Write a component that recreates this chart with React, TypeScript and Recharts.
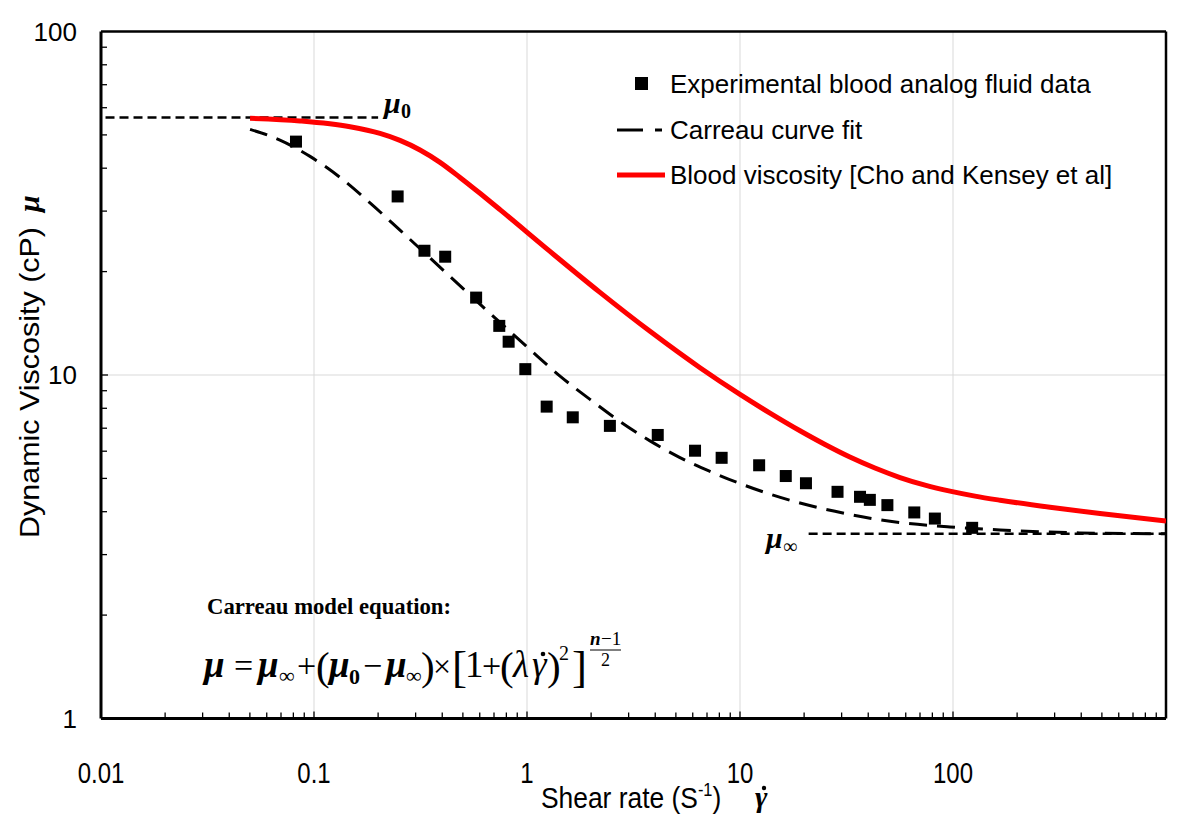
import React from 'react';
import { ComposedChart, Line, Scatter, XAxis, YAxis, ReferenceLine, Legend } from 'recharts';

const SANS = "'Liberation Sans', Arial, sans-serif";
const SERIF = "'Liberation Serif', 'Times New Roman', serif";

// ---- data ----
const expX = [0.0823, 0.247, 0.33, 0.413, 0.577, 0.741, 0.82, 0.982, 1.237, 1.64, 2.45, 4.11, 6.15, 8.2, 12.3, 16.4, 20.4, 28.7, 36.6, 40.7, 49.2, 65.8, 82.2, 123];
const expY = [47.8, 33.1, 23.0, 22.1, 16.8, 13.9, 12.5, 10.4, 8.09, 7.53, 7.11, 6.69, 6.02, 5.74, 5.46, 5.08, 4.84, 4.57, 4.42, 4.33, 4.18, 3.98, 3.82, 3.59];

const carreauX = [0.0501, 0.0692, 0.0958, 0.1325, 0.1832, 0.2533, 0.4351, 0.7466, 1.033, 1.429, 1.976, 2.733, 3.78, 5.226, 7.231, 10.0, 13.83, 19.13, 27.93, 40.76, 56.4, 96.8, 166.3, 394.6, 1000];
const carreauY = [51.9, 48.3, 43.3, 37.6, 31.7, 26.4, 19.36, 14.22, 11.86, 9.93, 8.49, 7.32, 6.43, 5.75, 5.24, 4.83, 4.5, 4.24, 4.01, 3.83, 3.72, 3.61, 3.54, 3.47, 3.45];

const bloodX = [0.0501, 0.086, 0.1476, 0.2041, 0.2533, 0.3146, 0.3905, 0.4846, 0.6016, 0.7466, 1.282, 2.201, 3.78, 6.49, 10.0, 13.83, 19.13, 25.07, 32.8, 43.0, 56.4, 73.9, 96.8, 126.9, 166.3, 285.4, 489.9, 1000];
const bloodY = [55.9, 54.9, 52.8, 50.5, 48.2, 45.2, 41.6, 37.6, 33.8, 30.3, 22.9, 17.4, 13.4, 10.5, 8.78, 7.745, 6.88, 6.275, 5.77, 5.36, 5.03, 4.78, 4.59, 4.44, 4.32, 4.12, 3.95, 3.76];

const mu0Value = 56.2;
const mu0X = [0.0105, 0.2];
const muInfValue = 3.45;
const muInfX = [21, 1000];

const xMajorTicks = [0.01, 0.1, 1, 10, 100, 1000];
const yMajorTicks = [1, 10, 100];
const xGrid = [0.1, 1, 10, 100];
const yGrid = [10];

const legendNames = [
  'Experimental blood analog fluid data',
  'Carreau curve fit',
  'Blood viscosity [Cho and Kensey et al]',
];

// ---- derived tables ----
const zip = (xs: number[], ys: number[]) => xs.map((x, i) => ({ x, y: ys[i] }));
const expData = zip(expX, expY);
const carreauData = zip(carreauX, carreauY);
const bloodData = zip(bloodX, bloodY);
const mu0Data = mu0X.map((x) => ({ x, y: mu0Value }));
const muInfData = muInfX.map((x) => ({ x, y: muInfValue }));

const withMinors = (majors: number[]) => {
  const out: number[] = [];
  for (let i = 0; i < majors.length - 1; i++) {
    for (let k = 1; k <= 9; k++) out.push(Number((majors[i] * k).toPrecision(3)));
  }
  out.push(majors[majors.length - 1]);
  return out;
};
const xTicks = withMinors(xMajorTicks);
const yTicks = withMinors(yMajorTicks);
const isMajor = (v: number) => Math.abs(Math.log10(v) - Math.round(Math.log10(v))) < 1e-9;

const XTick = (props: any) => {
  const { x, y, payload } = props;
  const v = payload.value;
  const major = isMajor(v);
  return (
    <g>
      {v > 0.01 && v < 1000 && (
        <line x1={x} x2={x} y1={y} y2={y - (major ? 7 : 6)} stroke="#000" strokeWidth={1.3} />
      )}
      {major && v < 1000 && (
        <text
          transform={`translate(${x},${y + 64}) scale(0.8,1)`}
          textAnchor="middle"
          fontFamily={SANS}
          fontSize={30}
          fill="#000"
        >
          {String(v)}
        </text>
      )}
    </g>
  );
};

const YTick = (props: any) => {
  const { x, y, payload } = props;
  const v = payload.value;
  const major = isMajor(v);
  return (
    <g>
      {v > 1 && v < 100 && (
        <line x1={x} x2={x + (major ? 7 : 6)} y1={y} y2={y} stroke="#000" strokeWidth={1.3} />
      )}
      {major && (
        <text x={x - 24} y={y + 9} textAnchor="end" fontFamily={SANS} fontSize={26} fill="#000">
          {String(v)}
        </text>
      )}
    </g>
  );
};

const Square = (props: any) => {
  const { cx, cy } = props;
  return <rect x={cx - 6} y={cy - 6} width={12} height={12} fill="#000" />;
};

const LegendBox = () => (
  <svg width={560} height={150} style={{ overflow: 'visible' }}>
    <rect x={35} y={22} width={13} height={13} fill="#000" />
    <text x={70} y={38} fontFamily={SANS} fontSize={26} fill="#000">{legendNames[0]}</text>
    <line x1={17} x2={43} y1={75} y2={75} stroke="#000" strokeWidth={3} />
    <line x1={55} x2={62} y1={75} y2={75} stroke="#000" strokeWidth={3} />
    <text x={70} y={84} fontFamily={SANS} fontSize={26} fill="#000">{legendNames[1]}</text>
    <line x1={17} x2={65} y1={120} y2={120} stroke="#ff0000" strokeWidth={5} />
    <text x={70} y={129} fontFamily={SANS} fontSize={26} fill="#000">{legendNames[2]}</text>
  </svg>
);

const MuLabel = ({ x, y, sub, subBold }: any) => (
  <text x={x} y={y} fontFamily={SERIF} fill="#000">
    <tspan fontStyle="italic" fontWeight="bold" fontSize={30}>μ</tspan>
    <tspan x={x + 17} y={y + 4.5} fontWeight={subBold ? 'bold' : 'normal'} fontSize={20}>{sub}</tspan>
  </text>
);

const Overlay = () => (
  <svg width={1200} height={832} style={{ position: 'absolute', left: 0, top: 0, pointerEvents: 'none' }}>
    {/* y axis title */}
    <g transform="translate(39,538) rotate(-90)">
      <text x={0} y={0} fontFamily={SANS} fontSize={28} fill="#000">
        <tspan textLength={311} lengthAdjust="spacingAndGlyphs">Dynamic Viscosity (cP)</tspan>
        <tspan x={326} fontFamily={SERIF} fontStyle="italic" fontWeight="bold" fontSize={30}>μ</tspan>
      </text>
    </g>
    {/* x axis title */}
    <g transform="translate(541,808) scale(0.91,1)">
      <text x={0} y={0} fontFamily={SANS} fontSize={29} fill="#000">
        Shear rate (S<tspan dy={-12} fontSize={18}>-1</tspan><tspan dy={12}>)</tspan>
      </text>
    </g>
    <text x={755} y={807} fontFamily={SERIF} fontStyle="italic" fontWeight="bold" fontSize={30} fill="#000">γ</text>
    <circle cx={764} cy={788} r={2.2} fill="#000" />

    {/* mu labels */}
    <MuLabel x={384} y={113} sub="0" subBold />
    <MuLabel x={766} y={548} sub="∞" />

    {/* Carreau equation */}
    <text x={207} y={614} fontFamily={SERIF} fontWeight="bold" fontSize={24} fill="#000" textLength={244} lengthAdjust="spacingAndGlyphs">Carreau model equation:</text>
    <text fontFamily={SERIF} fill="#000" x={204} y={677}>
      <tspan x={204} y={677} fontSize={37} fontStyle="italic" fontWeight="bold">μ</tspan>
      <tspan x={234} y={677} fontSize={34}>=</tspan>
      <tspan x={258} y={677} fontSize={37} fontStyle="italic" fontWeight="bold">μ</tspan>
      <tspan x={279} y={683} fontSize={22}>∞</tspan>
      <tspan x={297} y={677} fontSize={34}>+</tspan>
      <tspan x={316} y={680} fontSize={41}>(</tspan>
      <tspan x={329} y={677} fontSize={37} fontStyle="italic" fontWeight="bold">μ</tspan>
      <tspan x={349} y={684} fontSize={22} fontWeight="bold">0</tspan>
      <tspan x={363} y={677} fontSize={34}>−</tspan>
      <tspan x={386} y={677} fontSize={37} fontStyle="italic" fontWeight="bold">μ</tspan>
      <tspan x={406} y={683} fontSize={22}>∞</tspan>
      <tspan x={421} y={680} fontSize={41}>)</tspan>
      <tspan x={433} y={677} fontSize={32}>×</tspan>
      <tspan x={452} y={682} fontSize={45}>[</tspan>
      <tspan x={465} y={677} fontSize={37}>1</tspan>
      <tspan x={482} y={677} fontSize={34}>+</tspan>
      <tspan x={500} y={680} fontSize={41}>(</tspan>
      <tspan x={513} y={677} fontSize={37} fontStyle="italic">λ</tspan>
      <tspan x={532} y={677} fontSize={37} fontStyle="italic">γ</tspan>
      <tspan x={547} y={680} fontSize={41}>)</tspan>
      <tspan x={559} y={660} fontSize={20}>2</tspan>
      <tspan x={572} y={682} fontSize={45}>]</tspan>
      <tspan x={590} y={645} fontSize={19} fontStyle="italic" fontWeight="bold">n</tspan>
      <tspan x={601} y={645} fontSize={19}>−1</tspan>
      <tspan x={601} y={666} fontSize={18}>2</tspan>
    </text>
    <circle cx={543} cy={654} r={2.3} fill="#000" />
    <line x1={590} x2={621} y1={650} y2={650} stroke="#000" strokeWidth={1} />
  </svg>
);

export default function App() {
  return (
    <div style={{ position: 'absolute', left: 0, top: 0, width: 1200, height: 832, background: '#fff' }}>
      <ComposedChart width={1200} height={832} margin={{ top: 31.5, right: 34, left: 41, bottom: 83.5 }}>
        <XAxis
          dataKey="x"
          type="number"
          scale="log"
          domain={[0.01, 1000]}
          ticks={xTicks}
          interval={0}
          allowDataOverflow
          height={30}
          tickSize={0}
          tickMargin={0}
          tickLine={false}
          tick={<XTick />}
          axisLine={{ stroke: '#000', strokeWidth: 3 }}
        />
        <YAxis
          dataKey="y"
          type="number"
          scale="log"
          domain={[1, 100]}
          ticks={yTicks}
          interval={0}
          allowDataOverflow
          width={60}
          tickSize={0}
          tickMargin={0}
          tickLine={false}
          tick={<YTick />}
          axisLine={{ stroke: '#000', strokeWidth: 3 }}
        />
        {xGrid.map((v) => (
          <ReferenceLine key={'gx' + v} x={v} stroke="#d9d9d9" strokeWidth={1} />
        ))}
        {yGrid.map((v) => (
          <ReferenceLine key={'gy' + v} y={v} stroke="#d9d9d9" strokeWidth={1} />
        ))}
        <ReferenceLine y={100} stroke="#000" strokeWidth={2.5} />
        <ReferenceLine x={1000} stroke="#000" strokeWidth={2.5} />
        <Line data={mu0Data} dataKey="y" type="linear" stroke="#000" strokeWidth={2.5} strokeDasharray="9 5" dot={false} isAnimationActive={false} legendType="none" />
        <Line data={muInfData} dataKey="y" type="linear" stroke="#000" strokeWidth={2.5} strokeDasharray="9 5" dot={false} isAnimationActive={false} legendType="none" />
        <Line data={carreauData} dataKey="y" name={legendNames[1]} type="monotone" stroke="#000" strokeWidth={3} strokeDasharray="18 10" dot={false} isAnimationActive={false} />
        <Line data={bloodData} dataKey="y" name={legendNames[2]} type="monotone" stroke="#ff0000" strokeWidth={5} dot={false} isAnimationActive={false} />
        <Scatter data={expData} dataKey="y" name={legendNames[0]} shape={<Square />} isAnimationActive={false} />
        <Legend
          layout="vertical"
          align="center"
          verticalAlign="middle"
          content={() => <LegendBox />}
          wrapperStyle={{ left: 600, top: 55, width: 560, height: 150 }}
        />
      </ComposedChart>
      <Overlay />
    </div>
  );
}
